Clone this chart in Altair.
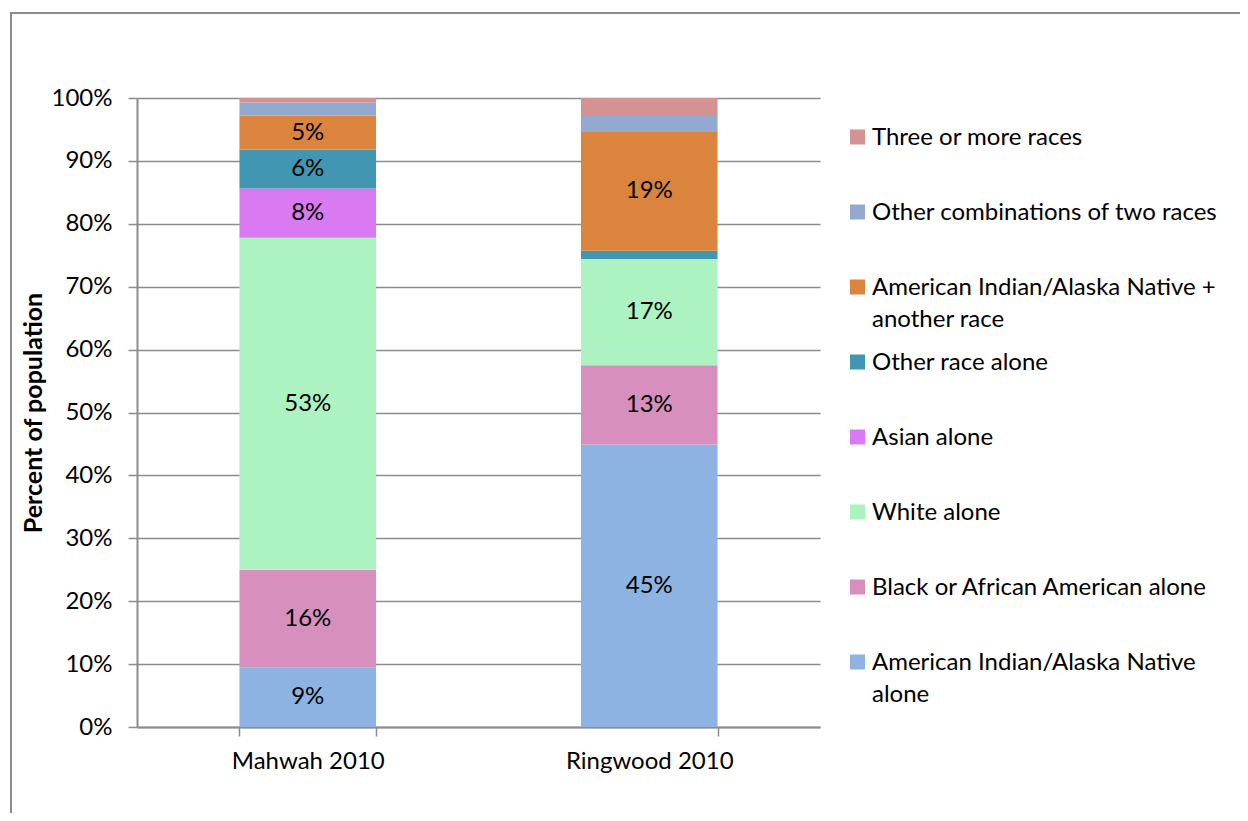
import altair as alt
import pandas as pd

places = ["Mahwah 2010", "Ringwood 2010"]
# bottom-to-top stacking order
categories = [
    "American Indian/Alaska Native alone",
    "Black or African American alone",
    "White alone",
    "Asian alone",
    "Other race alone",
    "American Indian/Alaska Native + another race",
    "Other combinations of two races",
    "Three or more races",
]
legend_labels = [
    "American Indian/Alaska Native\nalone",
    "Black or African American alone",
    "White alone",
    "Asian alone",
    "Other race alone",
    "American Indian/Alaska Native +\nanother race",
    "Other combinations of two races",
    "Three or more races",
]
mahwah = [9.4, 15.6, 52.8, 7.8, 6.2, 5.4, 2.1, 0.7]
ringwood = [44.9, 12.6, 16.9, 0.0, 1.3, 18.9, 2.7, 2.7]
colors = ["#8DB3E2", "#D78FBD", "#ADF3C2", "#DA7AF2", "#4197B1", "#DB843D", "#93A9D0", "#D39392"]
y_ticks = [0, 10, 20, 30, 40, 50, 60, 70, 80, 90, 100]

rows = []
for place, vals in zip(places, [mahwah, ringwood]):
    for i, (c, v) in enumerate(zip(categories, vals)):
        rows.append({"place": place, "category": c, "value": v, "rank": i})
df = pd.DataFrame(rows)

legend_df = pd.DataFrame({
    "category": categories,
    "label": legend_labels,
})

FONT = "Lato"
FS = 24
GRAY = "#8C8C8C"
W, H = 683, 629

color_scale = alt.Scale(domain=categories, range=colors)

bars = alt.Chart(df).mark_bar().encode(
    x=alt.X("place:N", sort=places,
            scale=alt.Scale(paddingInner=0.6, paddingOuter=0.3),
            axis=alt.Axis(title=None, labelAngle=0, tickBand="extent",
                          labelFontSize=FS, labelFont=FONT, labelColor="#000000",
                          labelPadding=13, tickSize=9, tickColor=GRAY, tickWidth=1.5,
                          domainColor=GRAY, domainWidth=2, grid=False)),
    y=alt.Y("value:Q", stack="zero",
            scale=alt.Scale(domain=[0, 100], nice=False),
            axis=alt.Axis(values=y_ticks, labelExpr="datum.value + '%'",
                          title="Percent of population", titleFont=FONT,
                          titleFontSize=25, titleFontWeight="bold", titleColor="#000000",
                          titleX=-104, titleY=H / 2, titleAngle=-90,
                          titleAlign="center", titleBaseline="middle",
                          labelFontSize=FS, labelFont=FONT, labelColor="#000000",
                          labelPadding=16, tickSize=9, tickColor=GRAY, tickWidth=1.5,
                          domainColor=GRAY, domainWidth=2,
                          grid=True, gridColor=GRAY, gridWidth=1.5)),
    color=alt.Color("category:N", scale=color_scale, legend=None),
    order=alt.Order("rank:Q", sort="ascending"),
)

labels = alt.Chart(df).transform_stack(
    stack="value", groupby=["place"],
    sort=[alt.SortField("rank", order="ascending")], as_=["v0", "v1"]
).transform_calculate(
    mid="(datum.v0 + datum.v1) / 2",
    txt="format(datum.value, '.0f') + '%'",
).transform_filter(
    alt.datum.value >= 4
).mark_text(font=FONT, fontSize=FS, color="#000000", baseline="middle").encode(
    x=alt.X("place:N", sort=places),
    y=alt.Y("mid:Q", scale=alt.Scale(domain=[0, 100], nice=False)),
    text="txt:N",
)

plot = alt.layer(bars, labels)

legend_y = alt.Y("category:N", sort=categories[::-1],
                 scale=alt.Scale(type="point", domain=categories[::-1],
                                 range=[39, 564], padding=0),
                 axis=None)

legend_sym = alt.Chart(legend_df).mark_square(size=225, opacity=1).encode(
    x=alt.value(720.5),
    y=legend_y,
    color=alt.Color("category:N", scale=color_scale, legend=None),
)
legend_txt = alt.Chart(legend_df).mark_text(
    font=FONT, fontSize=FS, color="#000000", align="left",
    baseline="alphabetic", dy=8, lineBreak="\n", lineHeight=32
).encode(
    x=alt.value(735),
    y=legend_y,
    text="label:N",
)
legend = alt.layer(legend_sym, legend_txt)

frame = alt.Chart(pd.DataFrame({"a": [0]})).mark_rect(
    fill=None, stroke=GRAY, strokeWidth=2
).encode(
    x=alt.value(-126), x2=alt.value(3000),
    y=alt.value(-85), y2=alt.value(3000),
)

chart = alt.layer(frame, plot, legend).resolve_scale(y="independent").properties(
    width=W, height=H,
    autosize=alt.AutoSizeParams(type="none"),
    padding={"left": 129, "top": 90, "right": 420, "bottom": 86},
    background="#FFFFFF",
).configure_view(stroke=None)

chart.save("out.html", embed_options={"renderer": "svg", "actions": False})
